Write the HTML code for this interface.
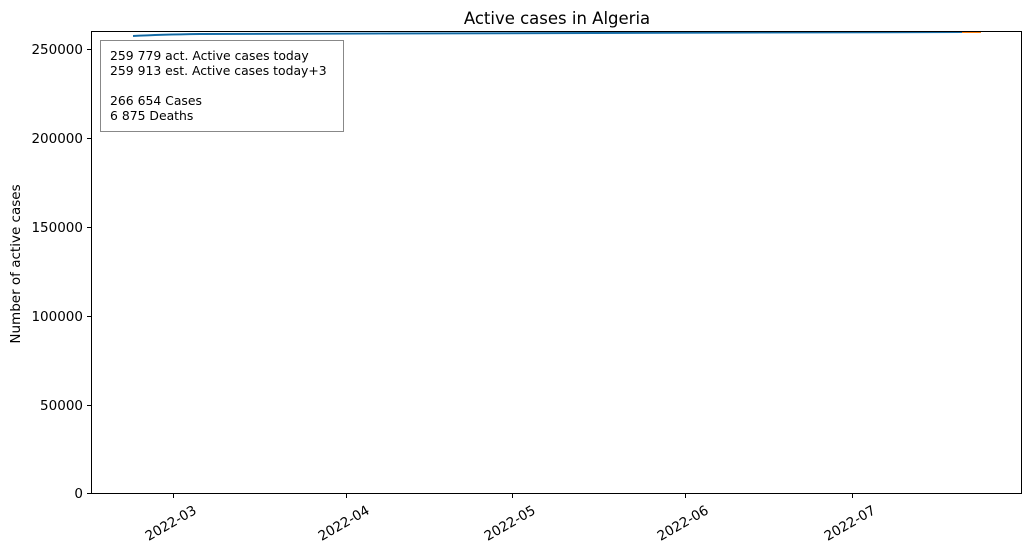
<!DOCTYPE html>
<html><head><meta charset="utf-8"><style>body{margin:0;background:#fff}</style></head><body>
<svg width="1031" height="554" xmlns="http://www.w3.org/2000/svg" font-family="DejaVu Sans, sans-serif">
<rect width="1031" height="554" fill="#fff"/>
<text x="557" y="24" font-size="16.5" text-anchor="middle" fill="#000">Active cases in Algeria</text>
<path d="M133 36 Q160 34.5 200 34 L962 32" stroke="#1f77b4" stroke-width="2" fill="none"/>
<path d="M133 36 Q160 34.5 200 34 L962 32" stroke="#0a5a8c" stroke-width="1" fill="none" opacity="0.6"/>
<line x1="962" y1="32" x2="981" y2="32" stroke="#ff7f0e" stroke-width="2"/>
<rect x="91.5" y="31.5" width="930" height="462" fill="none" stroke="#000" stroke-width="1"/>
<rect x="100.5" y="40.5" width="243" height="91" fill="#fff" stroke="#888" stroke-width="1"/>
<g font-size="12.4" fill="#000">
<text x="110" y="60">259 779 act. Active cases today</text>
<text x="110" y="75">259 913 est. Active cases today+3</text>
<text x="110" y="105">266 654 Cases</text>
<text x="110" y="120">6 875 Deaths</text>
</g>
<g stroke="#000" stroke-width="1">
<line x1="87" y1="493.5" x2="91" y2="493.5"/><line x1="87" y1="405.5" x2="91" y2="405.5"/>
<line x1="87" y1="316.5" x2="91" y2="316.5"/><line x1="87" y1="227.5" x2="91" y2="227.5"/>
<line x1="87" y1="138.5" x2="91" y2="138.5"/><line x1="87" y1="49.5" x2="91" y2="49.5"/>
<line x1="173.5" y1="494" x2="173.5" y2="498"/><line x1="346.5" y1="494" x2="346.5" y2="498"/>
<line x1="512.5" y1="494" x2="512.5" y2="498"/><line x1="685.5" y1="494" x2="685.5" y2="498"/>
<line x1="852.5" y1="494" x2="852.5" y2="498"/>
</g>
<g font-size="13.5" fill="#000" text-anchor="end">
<text x="83" y="498">0</text><text x="83" y="410">50000</text><text x="83" y="321">100000</text>
<text x="83" y="232">150000</text><text x="83" y="143">200000</text><text x="83" y="54">250000</text>
</g>
<g font-size="13.5" fill="#000" text-anchor="middle">
<text transform="translate(173,527) rotate(-30)">2022-03</text>
<text transform="translate(346,527) rotate(-30)">2022-04</text>
<text transform="translate(512,527) rotate(-30)">2022-05</text>
<text transform="translate(685,527) rotate(-30)">2022-06</text>
<text transform="translate(852,527) rotate(-30)">2022-07</text>
</g>
<text transform="translate(20,264) rotate(-90)" font-size="13.5" text-anchor="middle" fill="#000">Number of active cases</text>
</svg>
</body></html>
